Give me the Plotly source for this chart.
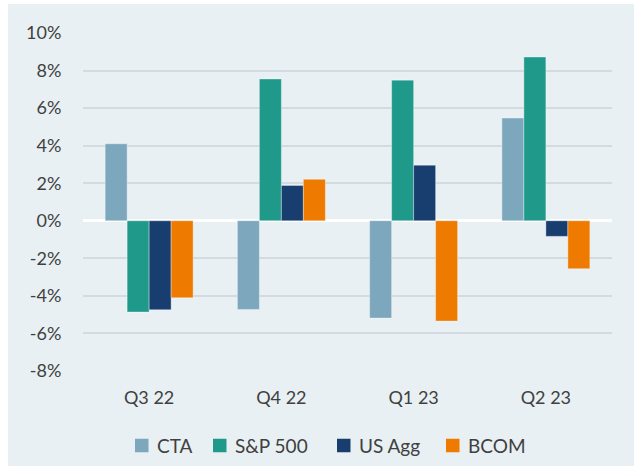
import plotly.graph_objects as go

# Quarterly returns (%)
quarters = ["Q3 22", "Q4 22", "Q1 23", "Q2 23"]
cta = [4.1, -4.72, -5.18, 5.47]
sp500 = [-4.86, 7.55, 7.49, 8.72]
us_agg = [-4.74, 1.88, 2.96, -0.83]
bcom = [-4.1, 2.21, -5.34, -2.55]

series_names = ["CTA", "S&P 500", "US Agg", "BCOM"]
series_values = [cta, sp500, us_agg, bcom]
series_colors = ["#7CA7BC", "#1E998A", "#183E6F", "#EE7A00"]

y_ticks = [-8, -6, -4, -2, 0, 2, 4, 6, 8, 10]
y_tick_text = [f"{v}%" for v in y_ticks]

W, H = 634, 466
ML, MR, MT, MB = 83, 22, 33, 95
PW, PH = W - ML - MR, H - MT - MB

PANEL = "#E8F0F3"
GRID = "#D3DBE0"
TEXT = "#404040"
FONT = "Lato"


def px_x(px):
    return (px - ML) / PW


def px_y(py):
    return (H - MB - py) / PH


fig = go.Figure()
for name, vals, color in zip(series_names, series_values, series_colors):
    fig.add_trace(go.Bar(
        x=quarters, y=vals, name=name,
        marker=dict(color=color, line=dict(color="rgba(255,255,255,0.35)", width=1)),
        showlegend=False,
    ))

# background panel (leaves a thin white strip at top and left)
shapes = [dict(type="rect", xref="paper", yref="paper", layer="below",
               x0=px_x(8), x1=px_x(W + 2), y0=px_y(H + 2), y1=px_y(4),
               fillcolor=PANEL, line=dict(width=0))]

# legend row drawn beneath the axis
legend_marker_px = [135, 213, 337, 446]
legend_y = 445.5
box = 13.5
annotations = []
for name, color, x0 in zip(series_names, series_colors, legend_marker_px):
    shapes.append(dict(type="rect", xref="paper", yref="paper",
                       x0=px_x(x0), x1=px_x(x0 + box),
                       y0=px_y(legend_y + box / 2), y1=px_y(legend_y - box / 2),
                       fillcolor=color, line=dict(width=0)))
    annotations.append(dict(xref="paper", yref="paper", x=px_x(x0 + box + 6.5), y=px_y(legend_y),
                            xanchor="left", yanchor="middle", showarrow=False, text=name,
                            font=dict(family=FONT, size=19, color=TEXT)))

fig.update_layout(
    width=W, height=H,
    margin=dict(l=ML, r=MR, t=MT, b=MB),
    paper_bgcolor="white",
    plot_bgcolor=PANEL,
    barmode="group",
    bargap=0.335,
    bargroupgap=0,
    font=dict(family=FONT, size=18, color=TEXT),
    shapes=shapes,
    annotations=annotations,
    showlegend=False,
)
fig.update_xaxes(
    showgrid=False, showline=False, zeroline=False,
    ticks="outside", ticklen=10, tickcolor="rgba(0,0,0,0)",
    tickfont=dict(family=FONT, size=18, color=TEXT),
)
fig.update_yaxes(
    range=[-8, 10], tickvals=y_ticks, ticktext=y_tick_text,
    showgrid=True, gridcolor=GRID, gridwidth=1.5,
    zeroline=True, zerolinecolor="white", zerolinewidth=3,
    showline=False,
    ticks="outside", ticklen=17, tickcolor="rgba(0,0,0,0)",
    tickfont=dict(family=FONT, size=18, color=TEXT),
)

fig.write_html("out.html")
